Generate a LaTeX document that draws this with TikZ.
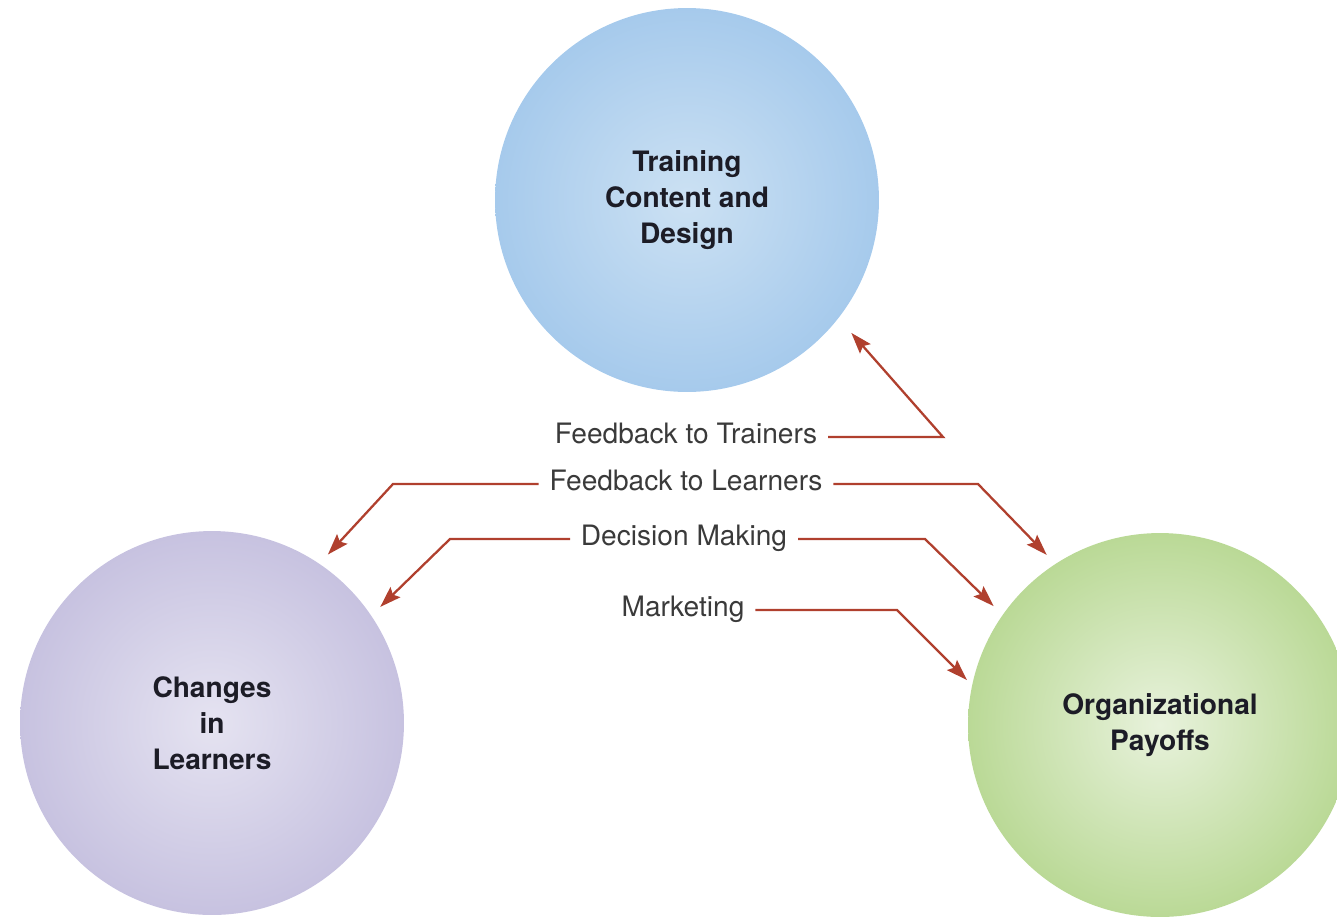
\documentclass[tikz,border=0pt]{standalone}
\usepackage{fontspec}
\setmainfont{TeX Gyre Heros}
\usetikzlibrary{arrows.meta}
\definecolor{arrowred}{RGB}{176, 64, 46}
\definecolor{tagtext}{RGB}{58, 58, 58}
\definecolor{bubbletext}{RGB}{28, 28, 38}
\definecolor{blueIn}{RGB}{204, 225, 243}
\definecolor{blueOut}{RGB}{166, 202, 236}
\definecolor{lilacIn}{RGB}{229, 227, 241}
\definecolor{lilacOut}{RGB}{199, 194, 224}
\definecolor{greenIn}{RGB}{232, 242, 220}
\definecolor{greenOut}{RGB}{186, 217, 150}
\tikzset{bubble/.style = {circle, minimum size = 7.68cm, inner sep = 0, align = center,
                          shading = radial, text = bubbletext,
                          font = \bfseries\fontsize{16}{20.5}\selectfont}}
\tikzset{tag/.style = {inner sep = 6pt, text height = 0.72em, text depth = 0pt,
                       text = tagtext, font = \fontsize{16}{19}\selectfont}}
\tikzset{flow/.style = {draw = arrowred, line width = 1.3pt, shorten >= 7pt,
                        -{Stealth[length = 12pt, width = 8pt, inset = 2pt]}}}

\begin{document}
\begin{tikzpicture}[x=0.02cm, y=-0.02cm]
    \useasboundingbox (0, 0) rectangle (1337, 916);

    \node [bubble, inner color=blueIn, outer color=blueOut] (design) at (687, 200) {Training\\Content and\\Design};
    \node [bubble, inner color=lilacIn, outer color=lilacOut] (learners) at (212, 723) {Changes\\in\\Learners};
    \node [bubble, inner color=greenIn, outer color=greenOut] (payoffs) at (1160, 725) {Organizational\\Payoffs};

    % labels in the middle column
    \node [tag] (fbt) at (686, 437) {Feedback to Trainers};
    \node [tag] (fbl) at (686, 484) {Feedback to Learners};
    \node [tag] (dm) at (684, 539) {Decision Making};
    \node [tag] (mkt) at (683, 610) {Marketing};

    \draw [flow, shorten >= 11pt] (fbt.east) -- (943, 437) -- (design.-38);
    \draw [flow] (fbl.west) -- (393, 484) -- (learners.56);
    \draw [flow] (fbl.east) -- (978, 484) -- (payoffs.123);
    \draw [flow] (dm.west) -- (450, 539) -- (learners.34);
    \draw [flow] (dm.east) -- (925, 539) -- (payoffs.145);
    \draw [flow, shorten >= 4pt] (mkt.east) -- (897, 610) -- (payoffs.168);
  \end{tikzpicture}
\end{document}
